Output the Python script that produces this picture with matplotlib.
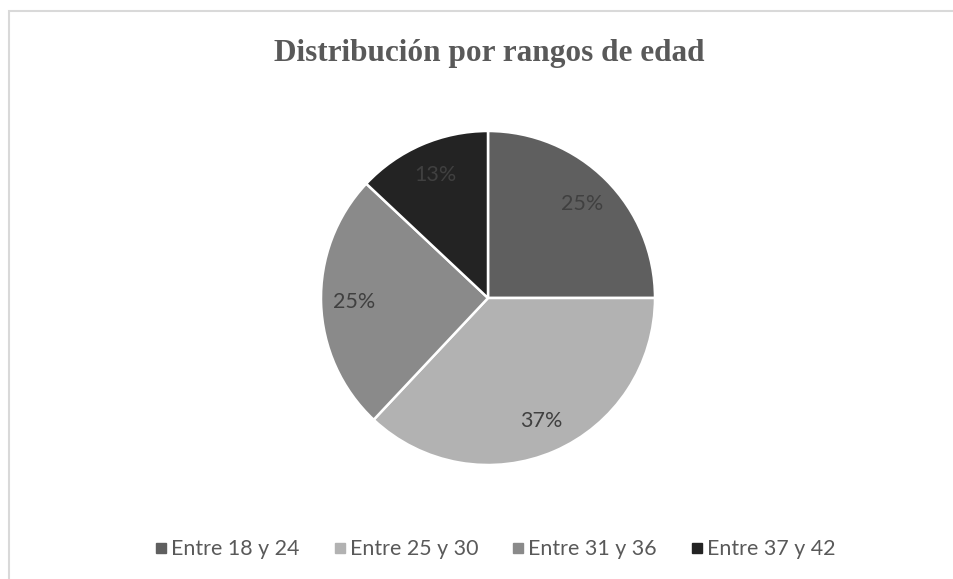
import matplotlib
matplotlib.use('Agg')
import matplotlib.pyplot as plt
from matplotlib.lines import Line2D
from matplotlib.patches import Rectangle

labels = ['Entre 18 y 24', 'Entre 25 y 30', 'Entre 31 y 36', 'Entre 37 y 42']
values = [25, 37, 25, 13]
colors = ['#5f5f5f', '#b2b2b2', '#8a8a8a', '#232323']

W, H = 954, 579
fig = plt.figure(figsize=(W / 100, H / 100), dpi=100)

# light gray chart frame (right/bottom run off the image)
fig.add_artist(Rectangle((9.5 / W, -0.2), 1.2, 1.2 - 11.5 / H,
                         transform=fig.transFigure, fill=False,
                         edgecolor='#d9d9d9', linewidth=1.5))

fig.text(489 / W, 1 - 53 / H, 'Distribución por rangos de edad',
         ha='center', va='center', family='Liberation Serif',
         fontweight='bold', fontsize=22.5, color='#595959')

cx, cy, r = 488, 298, 167
ax = fig.add_axes([(cx - r) / W, (H - cy - r) / H, 2 * r / W, 2 * r / H])
wedges, texts = ax.pie(values, colors=colors, startangle=90, counterclock=False,
                       labels=[f'{v}%' for v in values], labeldistance=0.8,
                       wedgeprops=dict(edgecolor='white', linewidth=1.8),
                       textprops=dict(color='#404040', fontsize=15.5, family='Lato'))
for t in texts:
    t.set_horizontalalignment('center')
ax.set_xlim(-1, 1)
ax.set_ylim(-1, 1)
ax.set_aspect('equal')

handles = [Line2D([], [], marker='s', linestyle='none', markersize=6.5,
                  markerfacecolor=c, markeredgecolor=c) for c in colors]
fig.legend(handles, labels, loc='center', bbox_to_anchor=(495 / W, 1 - 549 / H),
           ncol=4, frameon=False, handletextpad=0.17, columnspacing=1.57,
           handlelength=0.6, borderpad=0, prop=dict(family='Lato', size=15.4),
           labelcolor='#595959')

fig.savefig('out.png', dpi=100, facecolor='white')
